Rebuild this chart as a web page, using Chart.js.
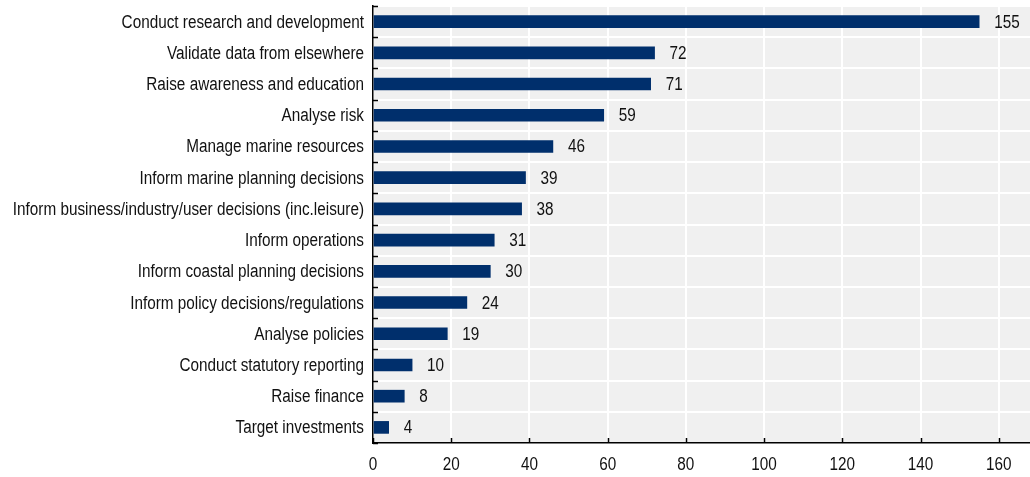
<!DOCTYPE html>
<html>
<head>
<meta charset="utf-8">
<script src="https://cdn.jsdelivr.net/npm/chart.js@4.4.1/dist/chart.umd.min.js"></script>
<style>
  body { margin: 0; background: #fff; }
  canvas { display: block; }
</style>
</head>
<body>
<canvas id="chart" width="1030" height="477"></canvas>
<script>
const categories = [
  "Conduct research and development",
  "Validate data from elsewhere",
  "Raise awareness and education",
  "Analyse risk",
  "Manage marine resources",
  "Inform marine planning decisions",
  "Inform business/industry/user decisions (inc.leisure)",
  "Inform operations",
  "Inform coastal planning decisions",
  "Inform policy decisions/regulations",
  "Analyse policies",
  "Conduct statutory reporting",
  "Raise finance",
  "Target investments"
];
const counts = [155, 72, 71, 59, 46, 39, 38, 31, 30, 24, 19, 10, 8, 4];
const xTicks = [0, 20, 40, 60, 80, 100, 120, 140, 160];

const FONT = "18px 'Liberation Sans', Arial, sans-serif";
const SQUEEZE = 0.85; // the original uses a narrow face

// narrow text: draw with a horizontal squeeze
function narrowText(ctx, text, x, y, align) {
  ctx.save();
  ctx.translate(x, y);
  ctx.scale(SQUEEZE, 1);
  ctx.textAlign = align;
  ctx.fillText(text, 0, 0);
  ctx.restore();
}

// grey plot background, inward tick marks and all labels
const decorations = {
  id: 'decorations',
  beforeDraw(chart) {
    const { ctx, chartArea: a } = chart;
    ctx.save();
    ctx.fillStyle = '#f0f0f0';
    ctx.fillRect(a.left, a.top, a.right - a.left, a.bottom - a.top);
    ctx.restore();
  },
  afterDraw(chart) {
    const { ctx, chartArea: a, scales } = chart;
    ctx.save();
    ctx.strokeStyle = '#000';
    ctx.lineWidth = 1.5;
    ctx.beginPath();
    const n = categories.length;
    const step = (a.bottom - a.top) / n;
    for (let i = 0; i <= n; i++) {
      const y = Math.round(a.top + i * step) + 0.5;
      ctx.moveTo(a.left, y);
      ctx.lineTo(a.left + 5, y);
    }
    xTicks.forEach(v => {
      const x = Math.round(scales.x.getPixelForValue(v)) + 0.5;
      ctx.moveTo(x, a.bottom);
      ctx.lineTo(x, a.bottom - 5);
    });
    ctx.stroke();

    ctx.fillStyle = '#111';
    ctx.font = FONT;
    ctx.textBaseline = 'middle';
    const meta = chart.getDatasetMeta(0);
    meta.data.forEach((bar, i) => {
      narrowText(ctx, categories[i], a.left - 9, bar.y + 1, 'right');
      narrowText(ctx, String(counts[i]), bar.x + 15, bar.y + 1, 'left');
    });
    xTicks.forEach(v => {
      narrowText(ctx, String(v), scales.x.getPixelForValue(v), a.bottom + 22, 'center');
    });
    ctx.restore();
  }
};

new Chart(document.getElementById('chart'), {
  type: 'bar',
  data: {
    labels: categories,
    datasets: [{
      data: counts,
      backgroundColor: '#002f6c',
      barThickness: 12
    }]
  },
  options: {
    indexAxis: 'y',
    responsive: false,
    animation: false,
    layout: { padding: { top: 6, right: 0, bottom: 0, left: 0 } },
    plugins: {
      legend: { display: false },
      tooltip: { enabled: false }
    },
    scales: {
      x: {
        min: 0,
        max: 168,
        afterBuildTicks(scale) {
          scale.ticks = xTicks.map(v => ({ value: v }));
        },
        afterFit(scale) { scale.height = 34; },
        grid: { color: '#ffffff', lineWidth: 2, drawTicks: false },
        border: { color: '#000', width: 1.5 },
        ticks: { display: false }
      },
      y: {
        afterFit(scale) { scale.width = 373; },
        grid: { color: '#ffffff', lineWidth: 2, drawTicks: false, offset: true },
        border: { color: '#000', width: 1.5 },
        ticks: { display: false }
      }
    }
  },
  plugins: [decorations]
});
</script>
</body>
</html>
